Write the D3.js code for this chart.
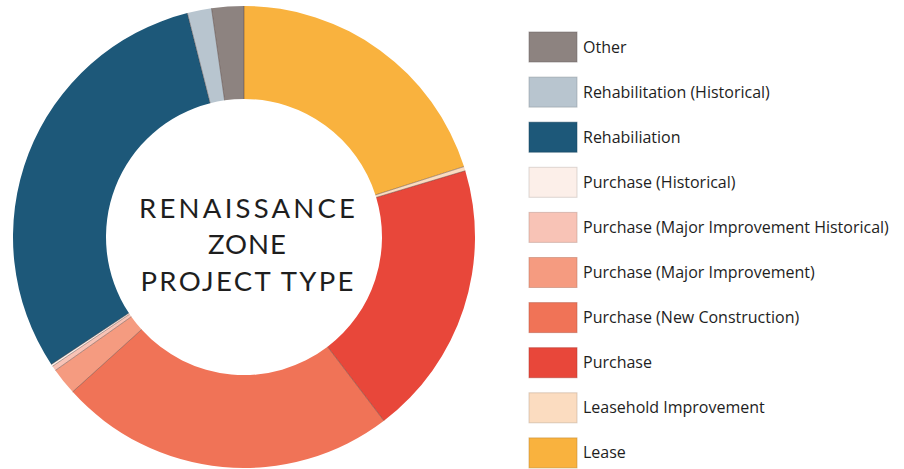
<!DOCTYPE html>
<html>
<head>
<meta charset="utf-8">
<script src="https://cdn.jsdelivr.net/npm/d3@7"></script>
<style>
  html, body { margin: 0; padding: 0; background: #ffffff; }
  svg { display: block; }
</style>
</head>
<body>
<svg id="chart" width="904" height="469"></svg>
<script>
// Categories in clockwise order starting at 12 o'clock
const categories = [
  "Lease",
  "Leasehold Improvement",
  "Purchase",
  "Purchase (New Construction)",
  "Purchase (Major Improvement)",
  "Purchase (Major Improvement Historical)",
  "Purchase (Historical)",
  "Rehabiliation",
  "Rehabilitation (Historical)",
  "Other"
];
// Estimated share (%) of each project type
const values = [20.1, 0.3, 19.3, 23.7, 1.9, 0.35, 0.15, 30.4, 1.7, 2.25];
const colors = [
  "#f9b23e", "#fbdcc0", "#e8473a", "#f07357", "#f59b80",
  "#f8c3b6", "#fcefe9", "#1d5879", "#b8c5cf", "#8d8380"
];
// Legend order (top to bottom)
const legendOrder = [9, 8, 7, 6, 5, 4, 3, 2, 1, 0];
const titleLines = ["RENAISSANCE", "ZONE", "PROJECT TYPE"];

const svg = d3.select("#chart");
const cx = 244, cy = 237, rOuter = 231, rInner = 138;

const data = categories.map((c, i) => ({ name: c, value: values[i], color: colors[i] }));
const pie = d3.pie().value(d => d.value).sort(null);
const arcs = pie(data);
const arc = d3.arc().innerRadius(rInner).outerRadius(rOuter);

const g = svg.append("g").attr("transform", `translate(${cx},${cy})`);
g.selectAll("path.slice")
  .data(arcs)
  .join("path")
  .attr("class", "slice")
  .attr("d", arc)
  .attr("fill", d => d.data.color);

// thin radial separators
g.selectAll("line.sep")
  .data(arcs)
  .join("line")
  .attr("class", "sep")
  .attr("x1", d => rInner * Math.sin(d.startAngle))
  .attr("y1", d => -rInner * Math.cos(d.startAngle))
  .attr("x2", d => rOuter * Math.sin(d.startAngle))
  .attr("y2", d => -rOuter * Math.cos(d.startAngle))
  .attr("stroke", "#4a3530")
  .attr("stroke-opacity", 0.55)
  .attr("stroke-width", 0.8);

// centre title
const title = svg.append("g").attr("transform", `translate(247,0)`);
const titleY = [218, 254, 291];
const titleW = [216, 78, 213];
title.selectAll("text")
  .data(titleLines)
  .join("text")
  .attr("x", 0)
  .attr("y", (d, i) => titleY[i])
  .attr("text-anchor", "middle")
  .attr("font-family", "Lato, 'Open Sans', sans-serif")
  .attr("font-weight", 400)
  .attr("font-size", 27.5)
  .attr("fill", "#1e1e1e")
  .attr("textLength", (d, i) => titleW[i])
  .attr("lengthAdjust", "spacing")
  .text(d => d);

// legend
const legend = svg.append("g");
const items = legend.selectAll("g.item")
  .data(legendOrder.map(i => data[i]))
  .join("g")
  .attr("class", "item")
  .attr("transform", (d, i) => `translate(529, ${32 + i * 45.1})`);
items.append("rect")
  .attr("width", 48)
  .attr("height", 30)
  .attr("fill", d => d.color)
  .attr("stroke", d => d3.color(d.color).darker(0.8))
  .attr("stroke-opacity", 0.5)
  .attr("stroke-width", 1);
items.append("text")
  .attr("x", 54)
  .attr("y", 20.5)
  .attr("font-family", "'Open Sans', Lato, sans-serif")
  .attr("font-size", 16)
  .attr("fill", "#1e1e1e")
  .text(d => d.name);
</script>
</body>
</html>
